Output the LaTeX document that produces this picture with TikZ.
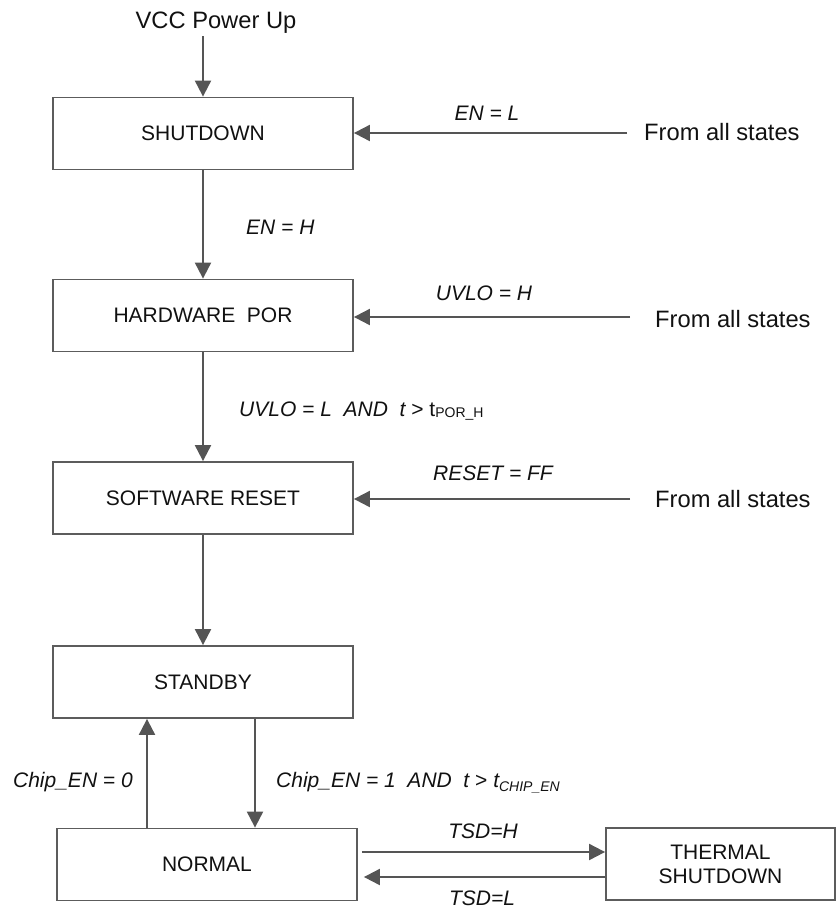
\documentclass[tikz,border=0pt]{standalone}
\usepackage{fontspec}
\setmainfont{Liberation Sans}
\usetikzlibrary{arrows.meta}
\definecolor{linegray}{HTML}{555555}
\definecolor{boxgray}{HTML}{5C5C5C}
\definecolor{txt}{HTML}{111111}
\begin{document}
\begin{tikzpicture}[x=1pt,y=-1pt,
  state/.style={draw=boxgray, line width=1.8pt, minimum width=300pt, minimum height=72pt,
    inner sep=0pt, font=\fontsize{21}{24}\selectfont, align=center, text=txt},
  conn/.style={draw=linegray, line width=2pt, -{Triangle[length=16pt,width=16pt]}},
  lbl/.style={font=\fontsize{21}{25}\selectfont\itshape, inner sep=0pt, text=txt},
  big/.style={font=\fontsize{23.7}{28}\selectfont, inner sep=0pt, text=txt}]
\useasboundingbox (0,0) rectangle (836,908);

% states
\node[state] (sd) at (203,133.5) {SHUTDOWN};
\node[state] (hw) at (203,315.5) {HARDWARE\ \ POR};
\node[state] (sw) at (203,498) {SOFTWARE RESET};
\node[state] (sb) at (203,682) {STANDBY};
\node[state] (nm) at (207,864.5) {NORMAL};
\node[state, minimum width=229pt] (th) at (720.5,864) {THERMAL\\SHUTDOWN};

% entry texts
\node[big, anchor=base] (vcc) at (216,28) {VCC Power Up};
\coordinate (vccs) at (203,36);
\node[big, anchor=base west] (fa1) at (644,140) {From all states};
\node[big, anchor=base west] (fa2) at (655,327) {From all states};
\node[big, anchor=base west] (fa3) at (655,507) {From all states};
\coordinate (f1) at (627,133);
\coordinate (f2) at (630,317);
\coordinate (f3) at (630,499);

% connectors
\draw[conn] (vccs) -- (sd.north);
\draw[conn] (sd.south) -- (hw.north);
\draw[conn] (hw.south) -- (sw.north);
\draw[conn] (sw.south) -- (sb.north);
\draw[conn] (f1) -- (f1 -| sd.east);
\draw[conn] (f2) -- (f2 -| hw.east);
\draw[conn] (f3) -- (f3 -| sw.east);
\draw[conn] ([xshift=52pt]sb.south) -- ([xshift=48pt]nm.north);
\draw[conn] ([xshift=-60pt]nm.north) -- ([xshift=-56pt]sb.south);
\draw[conn, shorten <=4pt] (nm.east |- 0,852) -- (th.west |- 0,852);
\draw[conn, shorten >=6pt] (th.west |- 0,877) -- (nm.east |- 0,877);

% labels
\node[lbl, anchor=base] (l1) at (487,120.5) {EN = L};
\node[lbl, anchor=base west] (l2) at (246,234.5) {EN = H};
\node[lbl, anchor=base] (l3) at (484,300) {UVLO = H};
\node[lbl, anchor=base west] (l4) at (239,416)
  {UVLO = L\ \ AND\ \ t {\upshape >} {\upshape t\raisebox{-1.5pt}{\fontsize{14}{14}\selectfont POR\_H}}};
\node[lbl, anchor=base] (l5) at (493,480) {RESET = FF};
\node[lbl, anchor=base east] (l6) at (133,787) {Chip\_EN = 0};
\node[lbl, anchor=base west] (l7) at (276,787)
  {Chip\_EN = 1\ \ AND\ \ t {\upshape >} t\raisebox{-4pt}{\fontsize{14}{14}\selectfont CHIP\_EN}};
\node[lbl, anchor=base] (l8) at (483,838) {TSD=H};
\node[lbl, anchor=base] (l9) at (482,905) {TSD=L};
\end{tikzpicture}
\end{document}
